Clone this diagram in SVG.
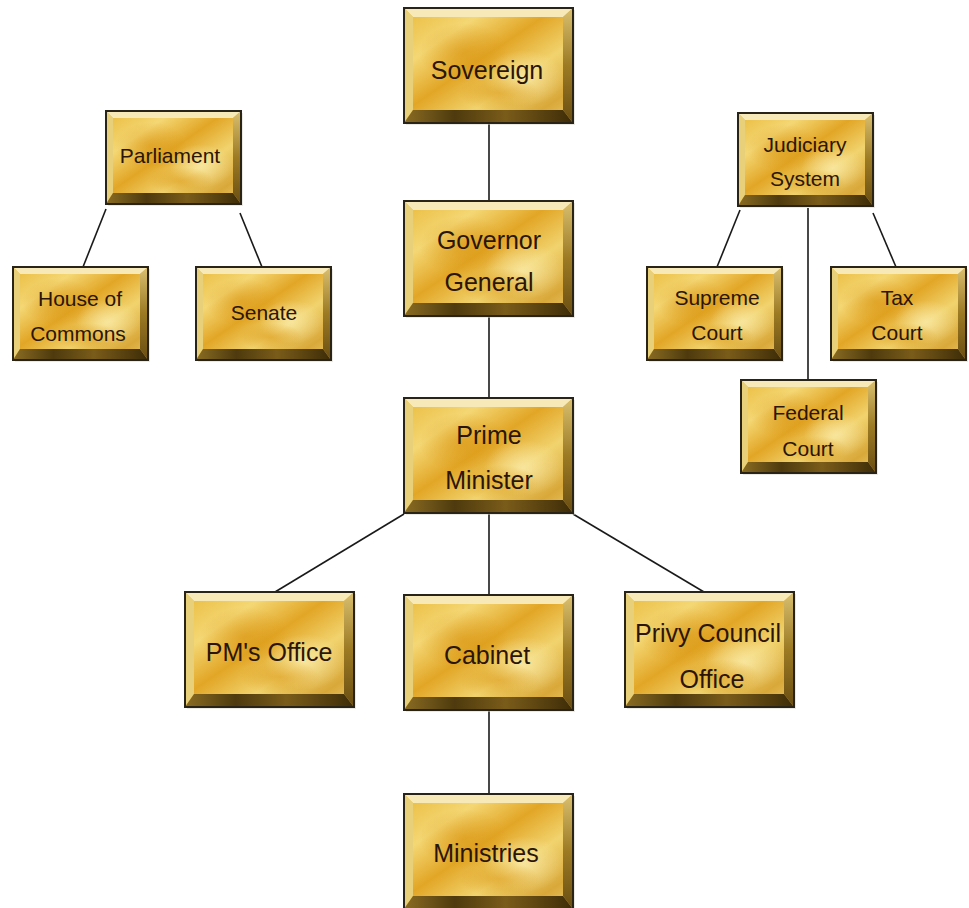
<svg xmlns="http://www.w3.org/2000/svg" width="969" height="908" viewBox="0 0 969 908">
<defs>
<linearGradient id="face" x1="0" y1="0" x2="1" y2="1">
<stop offset="0" stop-color="#e9b93a"/>
<stop offset="0.25" stop-color="#f4d774"/>
<stop offset="0.45" stop-color="#e2a626"/>
<stop offset="0.65" stop-color="#f1d36e"/>
<stop offset="0.85" stop-color="#d9a83a"/>
<stop offset="1" stop-color="#eccb6a"/>
</linearGradient>
<radialGradient id="spot" cx="0.5" cy="0.5" r="0.5">
<stop offset="0" stop-color="#d8920e" stop-opacity="0.55"/>
<stop offset="1" stop-color="#d8920e" stop-opacity="0"/>
</radialGradient>
<radialGradient id="hl" cx="0.5" cy="0.5" r="0.5">
<stop offset="0" stop-color="#fbedb0" stop-opacity="0.7"/>
<stop offset="1" stop-color="#fbedb0" stop-opacity="0"/>
</radialGradient>
<linearGradient id="bot" x1="0" y1="0" x2="1" y2="0">
<stop offset="0" stop-color="#8a6c22"/>
<stop offset="0.3" stop-color="#4e3a0e"/>
<stop offset="0.6" stop-color="#7a5c1a"/>
<stop offset="1" stop-color="#3e2c08"/>
</linearGradient>
<linearGradient id="rgt" x1="0" y1="0" x2="0" y2="1">
<stop offset="0" stop-color="#d9c070"/>
<stop offset="0.5" stop-color="#9c7a24"/>
<stop offset="1" stop-color="#6a4e12"/>
</linearGradient>
<g id="big">
<rect x="2" y="2" width="169" height="115" fill="#d8d4c8" opacity="0.5"/>
<rect x="0" y="0" width="169" height="115" fill="url(#face)"/>
<ellipse cx="60" cy="45" rx="45" ry="30" fill="url(#spot)"/>
<ellipse cx="120" cy="70" rx="40" ry="28" fill="url(#hl)"/>
<ellipse cx="95" cy="85" rx="40" ry="18" fill="url(#spot)"/>
<polygon points="0,0 169,0 159,9 9,9" fill="#f7eab8"/>
<polygon points="0,0 9,9 9,102 0,115" fill="#e8cf7a"/>
<polygon points="169,0 169,115 159,102 159,9" fill="url(#rgt)"/>
<polygon points="0,115 169,115 159,102 9,102" fill="url(#bot)"/>
<rect x="0" y="0" width="169" height="115" fill="none" stroke="#2a2418" stroke-width="2"/>
</g>
<g id="small">
<rect x="2" y="2" width="135" height="93" fill="#d8d4c8" opacity="0.5"/>
<rect x="0" y="0" width="135" height="93" fill="url(#face)"/>
<ellipse cx="45" cy="35" rx="36" ry="24" fill="url(#spot)"/>
<ellipse cx="95" cy="55" rx="32" ry="22" fill="url(#hl)"/>
<ellipse cx="75" cy="70" rx="32" ry="14" fill="url(#spot)"/>
<polygon points="0,0 135,0 127,7 7,7" fill="#f7eab8"/>
<polygon points="0,0 7,7 7,82 0,93" fill="#e8cf7a"/>
<polygon points="135,0 135,93 127,82 127,7" fill="url(#rgt)"/>
<polygon points="0,93 135,93 127,82 7,82" fill="url(#bot)"/>
<rect x="0" y="0" width="135" height="93" fill="none" stroke="#2a2418" stroke-width="2"/>
</g>
</defs>
<style>
.t{font-family:"Liberation Sans","DejaVu Sans",sans-serif;fill:#2a1608;text-anchor:middle}
.b{font-size:25px}
.s{font-size:21px}
.c{stroke:#1a1a1a;stroke-width:1.6;fill:none}
</style>
<rect width="969" height="908" fill="#ffffff"/>
<g id="connectors">
<line class="c" x1="489" y1="123" x2="489" y2="201"/>
<line class="c" x1="489" y1="316" x2="489" y2="398"/>
<line class="c" x1="489" y1="514" x2="489" y2="595"/>
<line class="c" x1="489" y1="710" x2="489" y2="794"/>
<line class="c" x1="404" y1="514" x2="275" y2="592"/>
<line class="c" x1="573" y1="514" x2="704" y2="592"/>
<line class="c" x1="106" y1="209" x2="83" y2="267"/>
<line class="c" x1="240" y1="213" x2="262" y2="267"/>
<line class="c" x1="740" y1="210" x2="717" y2="267"/>
<line class="c" x1="808" y1="208" x2="808" y2="380"/>
<line class="c" x1="873" y1="213" x2="896" y2="267"/>
</g>
<g id="sovereign"><use href="#big" x="404" y="8"/><text class="t b" x="487" y="79">Sovereign</text></g>
<g id="governor-general"><use href="#big" x="404" y="201"/><text class="t b" x="489" y="249">Governor</text><text class="t b" x="489" y="291">General</text></g>
<g id="prime-minister"><use href="#big" x="404" y="398"/><text class="t b" x="489" y="444">Prime</text><text class="t b" x="489" y="489">Minister</text></g>
<g id="cabinet"><use href="#big" x="404" y="595"/><text class="t b" x="487" y="664">Cabinet</text></g>
<g id="ministries"><use href="#big" x="404" y="794"/><text class="t b" x="486" y="862">Ministries</text></g>
<g id="pms-office"><use href="#big" x="185" y="592"/><text class="t b" x="269" y="661">PM's Office</text></g>
<g id="privy-council-office"><use href="#big" x="625" y="592"/><text class="t b" x="708" y="642">Privy Council</text><text class="t b" x="712" y="688">Office</text></g>
<g id="parliament"><use href="#small" x="106" y="111"/><text class="t s" x="170" y="163">Parliament</text></g>
<g id="house-of-commons"><use href="#small" x="13" y="267"/><text class="t s" x="80" y="306">House of</text><text class="t s" x="78" y="341">Commons</text></g>
<g id="senate"><use href="#small" x="196" y="267"/><text class="t s" x="264" y="320">Senate</text></g>
<g id="judiciary-system"><use href="#small" x="738" y="113"/><text class="t s" x="805" y="152">Judiciary</text><text class="t s" x="805" y="186">System</text></g>
<g id="supreme-court"><use href="#small" x="647" y="267"/><text class="t s" x="717" y="305">Supreme</text><text class="t s" x="717" y="340">Court</text></g>
<g id="tax-court"><use href="#small" x="831" y="267"/><text class="t s" x="897" y="305">Tax</text><text class="t s" x="897" y="340">Court</text></g>
<g id="federal-court"><use href="#small" x="741" y="380"/><text class="t s" x="808" y="420">Federal</text><text class="t s" x="808" y="456">Court</text></g>
</svg>
